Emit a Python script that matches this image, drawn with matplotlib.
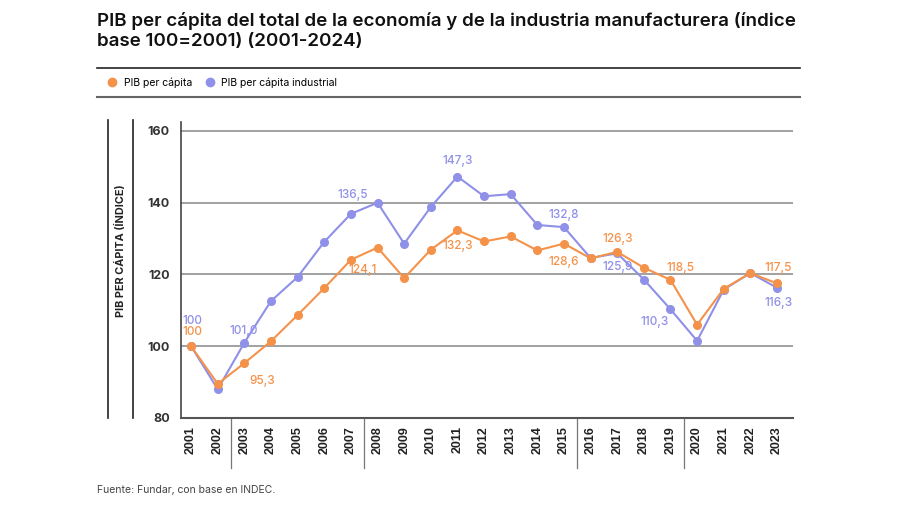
"""
PIB per capita vs PIB per capita industrial (indice base 100=2001)
"""
import matplotlib
matplotlib.use("Agg")
import matplotlib.pyplot as plt
from matplotlib.lines import Line2D
import matplotlib.transforms as mtransforms

plt.rcParams['font.family'] = ['Inter', 'DejaVu Sans']

ORANGE = '#F5924A'
BLUE = '#8F90E8'

years = [str(y) for y in range(2001, 2024)]
pib = [100, 89.5, 95.3, 101.4, 108.7, 116.2, 124.1, 127.5, 119.0, 126.9, 132.3,
       129.2, 130.6, 126.7, 128.6, 124.5, 126.3, 121.9, 118.5, 106.0, 116.0, 120.4, 117.5]
pib_ind = [100, 88.0, 101.0, 112.6, 119.3, 129.1, 136.9, 140.0, 128.6, 138.8, 147.3,
           141.8, 142.4, 133.8, 133.2, 124.6, 125.9, 118.6, 110.3, 101.5, 115.8, 120.4, 116.3]

# labels: (index, text, dx px, dy px)
labels_pib = [(0, '100', 1, 14), (2, '95,3', 18, -18), (6, '124,1', 12, -10),
              (10, '132,3', 0, -16), (14, '128,6', 0, -18), (16, '126,3', 0, 13),
              (18, '118,5', 10, 12), (22, '117,5', 1, 15)]
labels_ind = [(0, '100', 1, 25), (2, '101,0', -1, 12), (6, '136,5', 2, 19),
              (10, '147,3', 0, 16), (14, '132,8', 0, 12), (16, '125,9', 0, -14),
              (18, '110,3', -16, -13), (22, '116,3', 1, -15)]
separators = [1.5, 6.5, 14.5, 18.5]

fig = plt.figure(figsize=(9, 5.05), dpi=100)
ax = fig.add_axes([0.2011, 0.1723, 0.6800, 0.5868])

x = list(range(len(years)))
ax.plot(x, pib_ind, color=BLUE, lw=1.5, marker='o', ms=5.5, zorder=3)
ax.plot(x, pib, color=ORANGE, lw=1.5, marker='o', ms=5.5, zorder=4)

for i, txt, dx, dy in labels_pib:
    ax.annotate(txt, (i, pib[i]), xytext=(dx, dy), textcoords='offset pixels',
                ha='center', va='center', color=ORANGE, fontsize=8.5, fontweight='medium')
for i, txt, dx, dy in labels_ind:
    ax.annotate(txt, (i, pib_ind[i]), xytext=(dx, dy), textcoords='offset pixels',
                ha='center', va='center', color=BLUE, fontsize=8.5, fontweight='medium')

ax.set_xlim(-0.38, 22.6)
ax.set_ylim(80, 162.6)
ax.set_yticks([80, 100, 120, 140, 160])
for v in [100, 120, 140, 160]:
    ax.axhline(v, color='#9a9a9a', lw=1.3, zorder=1)

ax.set_xticks(x)
ax.set_xticklabels(years, rotation=90, fontsize=9, fontweight='bold',
                   family='Liberation Sans', color='#222222')
for lab in ax.get_yticklabels():
    lab.set_fontsize(9)
    lab.set_fontweight('bold')
    lab.set_color('#333333')
ax.tick_params(axis='x', length=0, pad=6)
ax.tick_params(axis='y', length=0, pad=8)

for s in ['top', 'right']:
    ax.spines[s].set_visible(False)
ax.spines['left'].set_color('#444444')
ax.spines['bottom'].set_color('#555555')
ax.spines['left'].set_linewidth(1.2)
ax.spines['bottom'].set_linewidth(1.5)

trans = mtransforms.blended_transform_factory(ax.transData, ax.transAxes)
for sx in separators:
    ax.plot([sx, sx], [0, -0.17], color='#777777', lw=0.9, transform=trans, clip_on=False)

# y label with vertical rules
fig.add_artist(Line2D([108 / 900, 108 / 900], [1 - 120 / 505, 1 - 418 / 505], color='#222222', lw=1.2))
fig.add_artist(Line2D([133 / 900, 133 / 900], [1 - 120 / 505, 1 - 418 / 505], color='#222222', lw=1.2))
fig.text(120 / 900, 1 - 251 / 505, 'PIB PER CÁPITA (ÍNDICE)', rotation=90, ha='center', va='center',
         fontsize=7.8, fontweight='bold', color='#222222')

# title
fig.text(97 / 900, 1 - 12 / 505,
         'PIB per cápita del total de la economía y de la industria manufacturera (índice\nbase 100=2001) (2001-2024)',
         ha='left', va='top', fontsize=13.5, fontweight='semibold', color='#111111', linespacing=1.25)

# legend band
fig.add_artist(Line2D([97 / 900, 800 / 900], [1 - 68 / 505] * 2, color='#222222', lw=1.2))
fig.add_artist(Line2D([97 / 900, 800 / 900], [1 - 97 / 505] * 2, color='#666666', lw=1.5))
handles = [Line2D([], [], color=ORANGE, marker='o', ls='none', ms=6),
           Line2D([], [], color=BLUE, marker='o', ls='none', ms=6)]
fig.legend(handles, ['PIB per cápita', 'PIB per cápita industrial'], loc='center left',
           bbox_to_anchor=(102 / 900, 1 - 82.5 / 505), ncol=2, frameon=False, fontsize=7.5,
           handletextpad=0.1, columnspacing=0.7, borderaxespad=0, borderpad=0)

fig.text(97 / 900, 1 - 490 / 505, 'Fuente: Fundar, con base en INDEC.', ha='left', va='center',
         fontsize=7.5, color='#444444')

fig.savefig('out.png', dpi=100)
